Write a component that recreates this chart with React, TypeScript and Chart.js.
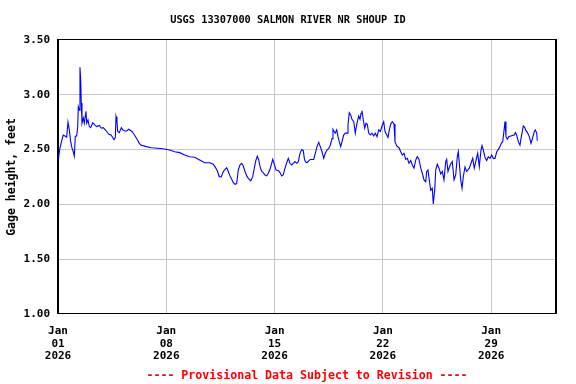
import React, { useEffect, useRef } from "react";
import { Chart, registerables } from "chart.js";

Chart.register(...registerables);

const TITLE = "USGS 13307000 SALMON RIVER NR SHOUP ID";
const Y_LABEL = "Gage height, feet";
const FOOTER = "---- Provisional Data Subject to Revision ----";

// hours since 2026-01-01 00:00
const HOURS = [
  0, 1.1, 3.1, 6.2, 8.2, 13.5, 15.5, 17.5, 19.7, 21.7, 23.7, 25.3, 26.8, 29.0, 30.6, 31.5, 33.0, 34.1,
  35.2, 36.1, 37.2, 39.3, 40.8, 43.4, 44.5, 46.5, 48.6, 50.7, 53.8, 56.9, 60.0, 64.1, 67.2, 70.3,
  73.4, 75.6, 78.7, 82.2, 84.9, 86.9, 88.9, 90.0, 91.5, 92.6, 95.1, 98.2, 100.4, 103.5, 106.6,
  109.7, 114.8, 117.9, 121.0, 124.1, 126.1, 129.2, 137.0, 144.7, 155.1, 165.5, 173.3, 181.0,
  188.8, 196.5, 204.3, 212.1, 219.8, 227.6, 235.3, 240.5, 244.0, 247.1, 250.2, 253.3, 256.5,
  259.1, 261.7, 264.2, 266.8, 269.5, 272.0, 274.6, 277.2, 279.7, 282.4, 285.0, 287.5, 290.1,
  292.8, 295.2, 299.0, 302.1, 304.5, 307.2, 309.2, 311.4, 313.4, 316.0, 318.5, 321.1, 323.8,
  326.3, 328.9, 331.5, 333.1, 335.1, 338.2, 341.8, 344.4, 347.1, 349.5, 352.2, 354.8, 357.3,
  359.9, 362.6, 365.0, 367.7, 370.3, 372.8, 375.4, 378.1, 380.6, 382.1, 383.7, 386.3, 388.9,
  391.4, 396.7, 399.2, 401.8, 404.5, 406.9, 409.6, 412.2, 414.7, 417.3, 420.0, 422.4, 425.1,
  426.6, 428.7, 430.2, 432.4, 434.4, 436.4, 438.6, 440.6, 443.2, 445.7, 448.4, 449.9, 451.9,
  454.1, 456.1, 458.8, 461.2, 462.8, 465.0, 466.5, 468.5, 470.1, 471.6, 473.6, 475.8, 477.8,
  479.9, 482.0, 484.5, 487.1, 489.8, 492.2, 494.9, 497.5, 500.0, 502.7, 505.3, 507.3, 509.5,
  511.9, 514.0, 516.2, 518.6, 521.3, 522.8, 525.5, 529.0, 531.7, 534.2, 536.8, 539.4, 541.9,
  544.5, 547.2, 549.7, 552.3, 555.0, 557.4, 560.1, 562.7, 565.2, 567.8, 570.5, 572.0, 574.0,
  576.0, 578.2, 580.7, 582.2, 584.4, 586.0, 588.4, 591.1, 593.7, 596.2, 598.8, 601.5, 603.0,
  605.0, 606.6, 609.2, 611.7, 614.4, 617.0, 619.5, 621.0, 622.6, 624.8, 626.8, 628.8, 631.4,
  634.1, 638.1, 640.7, 643.4, 645.8, 651.1, 653.6, 656.2, 657.8, 659.8, 662.9, 665.1, 667.6,
  670.2, 672.8, 675.3, 678.0, 680.6, 683.1, 685.7, 687.7, 689.9, 691.5, 693.5, 695.0, 697.1,
  699.2, 702.3, 707.9, 709.5, 711.6, 714.1, 716.7, 718.8, 721.9, 724.1, 726.1, 728.7, 731.2,
  733.8, 736.5, 739.0, 740.5, 742.7, 743.6,
];

const GAGE_HEIGHT = [
  2.42, 2.435, 2.515, 2.59, 2.633, 2.615, 2.75, 2.68, 2.57, 2.515, 2.48, 2.44, 2.62, 2.625, 2.71, 2.89, 2.86, 3.25,
  3.135, 2.925, 2.74, 2.79, 2.74, 2.85, 2.74, 2.77, 2.71, 2.70, 2.745, 2.725, 2.71, 2.72, 2.695, 2.70,
  2.68, 2.665, 2.64, 2.633, 2.61, 2.59, 2.61, 2.80, 2.755, 2.665, 2.655, 2.70, 2.68, 2.67, 2.67,
  2.685, 2.665, 2.64, 2.61, 2.58, 2.557, 2.54, 2.527, 2.517, 2.512, 2.505, 2.496, 2.48,
  2.472, 2.45, 2.435, 2.43, 2.405, 2.38, 2.38, 2.369, 2.34, 2.307, 2.253, 2.25, 2.30,
  2.32, 2.335, 2.30, 2.26, 2.23, 2.198, 2.183, 2.19, 2.314, 2.36, 2.375, 2.35, 2.30,
  2.26, 2.238, 2.216, 2.253, 2.33, 2.405, 2.44, 2.405, 2.344, 2.30, 2.29, 2.268, 2.26,
  2.284, 2.32, 2.375, 2.41, 2.375, 2.314, 2.31, 2.29, 2.26, 2.27, 2.33, 2.38, 2.42,
  2.375, 2.36, 2.375, 2.39, 2.375, 2.39, 2.466, 2.50, 2.49, 2.42, 2.39, 2.38, 2.396,
  2.41, 2.41, 2.466, 2.527, 2.567, 2.527, 2.48, 2.42, 2.466, 2.496, 2.51, 2.54, 2.60,
  2.685, 2.663, 2.65, 2.68, 2.618, 2.572, 2.527, 2.572, 2.633, 2.65, 2.65, 2.725, 2.837,
  2.816, 2.776, 2.755, 2.65, 2.71, 2.77, 2.806, 2.776, 2.83, 2.855, 2.77, 2.695, 2.74,
  2.73, 2.65, 2.633, 2.65, 2.624, 2.65, 2.618, 2.68, 2.665, 2.715, 2.755, 2.665, 2.64,
  2.61, 2.68, 2.733, 2.755, 2.733, 2.572, 2.533, 2.517, 2.48, 2.45, 2.466, 2.41, 2.42,
  2.375, 2.40, 2.36, 2.33, 2.405, 2.435, 2.41, 2.33, 2.284, 2.223, 2.207, 2.30, 2.314,
  2.223, 2.13, 2.147, 2.003, 2.13, 2.314, 2.366, 2.33, 2.277, 2.30, 2.223, 2.39, 2.41,
  2.30, 2.33, 2.369, 2.39, 2.223, 2.268, 2.435, 2.48, 2.375, 2.223, 2.147, 2.253, 2.34,
  2.30, 2.33, 2.375, 2.42, 2.33, 2.466, 2.344, 2.496, 2.536, 2.496, 2.42, 2.40, 2.435,
  2.42, 2.45, 2.42, 2.42, 2.48, 2.50, 2.527, 2.557, 2.572, 2.65, 2.755, 2.618, 2.594,
  2.618, 2.624, 2.633, 2.655, 2.633, 2.572, 2.54, 2.618, 2.715, 2.70, 2.673, 2.65, 2.618,
  2.557, 2.61, 2.665, 2.68, 2.65, 2.58,
];

const TICK_HOURS = [0, 168, 336, 504, 672];
const TICK_LABELS = [
  ["Jan", "01", "2026"],
  ["Jan", "08", "2026"],
  ["Jan", "15", "2026"],
  ["Jan", "22", "2026"],
  ["Jan", "29", "2026"],
];
const X_MAX_HOURS = 772.6;
const Y_MIN = 1.0;
const Y_MAX = 3.5;
const Y_STEP = 0.5;

const FONT = "'DejaVu Sans Mono', monospace";

export default function App() {
  const ref = useRef<HTMLCanvasElement>(null);

  useEffect(() => {
    const canvas = ref.current;
    if (!canvas) return;

    const framePlugin = {
      id: "frame",
      afterDraw(chart: any) {
        const { ctx, chartArea } = chart;
        const { left, top, right, bottom } = chartArea;
        ctx.save();
        ctx.strokeStyle = "#000";
        ctx.lineWidth = 1;
        ctx.strokeRect(Math.round(left) - 0.5, Math.round(top) - 0.5, Math.round(right - left), Math.round(bottom - top));
        ctx.restore();
      },
    };

    const chart = new Chart(canvas, {
      type: "line",
      data: {
        datasets: [
          {
            data: HOURS.map((h, i) => ({ x: h, y: GAGE_HEIGHT[i] })),
            borderColor: "#0000FF",
            borderWidth: 1.1,
            pointRadius: 0,
            tension: 0,
            fill: false,
          },
        ],
      },
      options: {
        animation: false,
        responsive: false,
        devicePixelRatio: 1,
        layout: { padding: 0 },
        plugins: {
          legend: { display: false },
          tooltip: { enabled: false },
          title: {
            display: true,
            text: TITLE,
            color: "#000",
            font: { family: FONT, size: 10.3, weight: "bold", lineHeight: 1.2 },
            padding: { top: 14.6, bottom: 13.0 },
          },
        },
        scales: {
          x: {
            type: "linear",
            position: "bottom",
            min: 0,
            max: X_MAX_HOURS,
            afterBuildTicks: (s: any) => {
              s.ticks = TICK_HOURS.map((v) => ({ value: v }));
            },
            afterFit: (s: any) => {
              s.height = 70;
            },
            ticks: {
              autoSkip: false,
              maxRotation: 0,
              padding: 11,
              color: "#000",
              font: { family: FONT, size: 11, weight: "bold", lineHeight: 1.15 },
              callback: (v: any) => {
                const i = TICK_HOURS.indexOf(Number(v));
                return i >= 0 ? TICK_LABELS[i] : "";
              },
            },
            grid: { color: "#C8C8C8", lineWidth: 1, drawTicks: false },
            border: { color: "#000", width: 1 },
            title: {
              display: true,
              text: FOOTER,
              color: "#FF0000",
              font: { family: FONT, size: 11.6, weight: "bold", lineHeight: 1.2 },
              padding: { top: 0, bottom: 1 },
            },
          },
          y: {
            type: "linear",
            position: "left",
            min: Y_MIN,
            max: Y_MAX,
            afterFit: (s: any) => {
              s.width = 58;
            },
            ticks: {
              stepSize: Y_STEP,
              padding: 8,
              color: "#000",
              font: { family: FONT, size: 11, weight: "bold" },
              callback: (v: any) => Number(v).toFixed(2),
            },
            grid: { color: "#C8C8C8", lineWidth: 1, drawTicks: false },
            border: { color: "#000", width: 1 },
            title: {
              display: true,
              text: Y_LABEL,
              color: "#000",
              font: { family: FONT, size: 11.5, weight: "bold", lineHeight: 1.2 },
              padding: { top: 5, bottom: 0 },
            },
          },
          yRight: {
            type: "linear",
            position: "right",
            min: Y_MIN,
            max: Y_MAX,
            afterFit: (s: any) => {
              s.width = 20;
            },
            ticks: { display: false },
            grid: { display: false, drawTicks: false },
            border: { color: "#000", width: 1 },
          },
        },
      },
      plugins: [framePlugin],
    } as any);

    return () => chart.destroy();
  }, []);

  return (
    <div style={{ position: "fixed", left: 0, top: 0, width: 576, height: 384, background: "#fff" }}>
      <canvas ref={ref} width={576} height={384} style={{ display: "block", width: 576, height: 384 }} />
    </div>
  );
}
